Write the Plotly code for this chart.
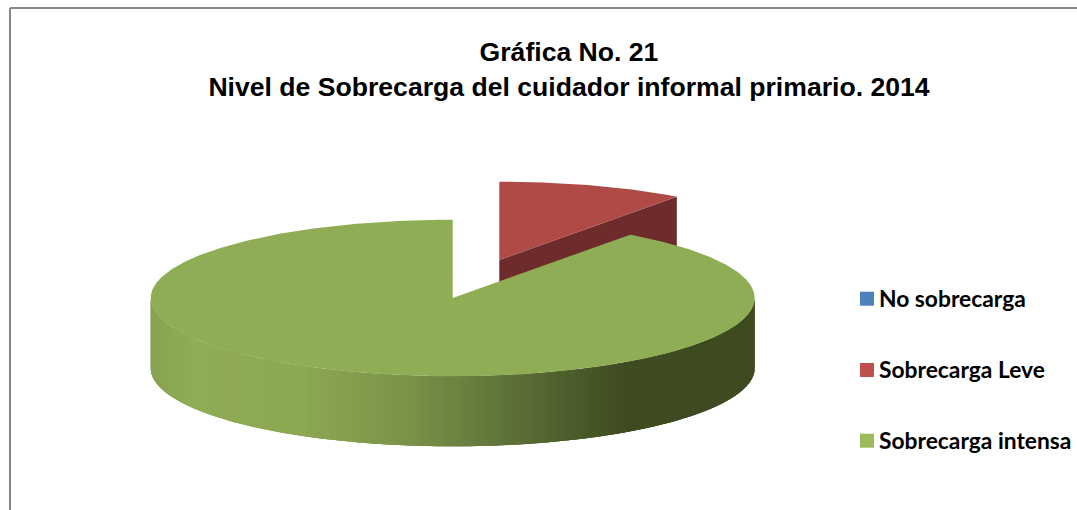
import math
import plotly.graph_objects as go

# ---- data ----
categories = ["No sobrecarga", "Sobrecarga Leve", "Sobrecarga intensa"]
values = [0, 10, 90]
legend_colors = ["#4F81BD", "#C0504D", "#9BBB59"]
title_lines = ["Gráfica No. 21", "Nivel de Sobrecarga del cuidador informal primario. 2014"]

# ---- 3D pie projection (pixel space) ----
CX, CY, RX, RY, DEPTH = 452.7, 298.0, 302.0, 78.3, 70.0
EXPLODE = (46.6, -38.0)
TOP_RED, SIDE_RED = "#AF4A47", "#6D2B2C"
TOP_GREEN = "#8FAD55"
GRAD = [(150, (134, 163, 80)), (190, (143, 173, 85)), (300, (139, 168, 82)),
        (400, (122, 147, 72)), (460, (106, 128, 64)), (560, (77, 95, 44)),
        (620, (63, 75, 32)), (760, (63, 75, 32))]


def grad_color(x):
    for (x0, c0), (x1, c1) in zip(GRAD, GRAD[1:]):
        if x <= x1:
            t = max(0.0, (x - x0) / (x1 - x0))
            return "rgb(%d,%d,%d)" % tuple(round(a + (b - a) * t) for a, b in zip(c0, c1))
    return "rgb(63,75,32)"


def rim(theta, cx=CX, cy=CY, dz=0.0):
    a = math.radians(theta)
    return cx + RX * math.sin(a), cy - RY * math.cos(a) + dz


def arc(t0, t1, cx=CX, cy=CY, dz=0.0):
    n = max(2, int(abs(t1 - t0)) * 2)
    return [rim(t0 + (t1 - t0) * i / n, cx, cy, dz) for i in range(n + 1)]


def poly(points, color, width=0.0):
    xs, ys = zip(*points)
    return go.Scatter(x=list(xs) + [xs[0]], y=list(ys) + [ys[0]], mode="lines", fill="toself",
                      fillcolor=color, line=dict(color=color, width=width), hoverinfo="skip",
                      showlegend=False)


total = sum(values)
sweep = [v / total * 360 for v in values]
red_start, red_end = sweep[0], sweep[0] + sweep[1]
green_start, green_end = red_end, red_end + sweep[2]

fig = go.Figure()

# exploded red slice: cut face, then top
rx0, ry0 = CX + EXPLODE[0], CY + EXPLODE[1]
end_pt = rim(red_end, rx0, ry0)
fig.add_trace(poly([(rx0, ry0), end_pt, (end_pt[0], end_pt[1] + DEPTH), (rx0, ry0 + DEPTH)], SIDE_RED))
fig.add_trace(poly([(rx0, ry0)] + arc(red_start, red_end, rx0, ry0), TOP_RED))

# green slice: shaded outer wall (overlapping strips, right to left), then top
STEP = 0.5
for i in range(int(180 / STEP)):
    th = 90 + i * STEP
    a, b = rim(max(90, th - 1.0)), rim(th + STEP)
    c, d = rim(th + STEP, dz=DEPTH), rim(max(90, th - 1.0), dz=DEPTH)
    mid = rim(th + STEP / 2)[0]
    fig.add_trace(poly([a, rim(th), b, c, rim(th, dz=DEPTH), d], grad_color(mid)))
fig.add_trace(poly([(CX, CY)] + arc(green_start, green_end), TOP_GREEN))

# legend column
fig.add_trace(go.Scatter(
    x=[867] * len(categories), y=[298.7, 370, 440.7], mode="markers",
    marker=dict(symbol="square", size=14, color=legend_colors, line=dict(width=0)),
    hoverinfo="skip", showlegend=False))
fig.add_trace(go.Scatter(
    x=[879] * len(categories), y=[301, 372, 443], mode="text",
    text=categories, textposition="middle right",
    textfont=dict(family="Lato", size=22.8, color="#000000", weight=700),
    hoverinfo="text", showlegend=False))

line = dict(color="#868686", width=2)
fig.update_layout(
    width=1077, height=510, margin=dict(l=0, r=0, t=0, b=0),
    paper_bgcolor="white", plot_bgcolor="white", showlegend=False,
    xaxis=dict(range=[0, 1077], visible=False, fixedrange=True),
    yaxis=dict(range=[510, 0], visible=False, fixedrange=True),
    title=dict(text="<b>" + "<br>".join(title_lines) + "</b>",
               font=dict(family="Liberation Sans", size=26.6, color="#000000"),
               x=569 / 1077, xanchor="center", y=1 - 61 / 510, yanchor="top"),
    shapes=[dict(type="line", xref="x", yref="y", x0=10, y0=8, x1=1077, y1=8, line=line),
            dict(type="line", xref="x", yref="y", x0=10, y0=8, x1=10, y1=510, line=line)],
)
fig.write_html("out.html", config={"displayModeBar": False},
               post_script="document.body.style.margin='0';document.documentElement.style.overflow='hidden';")
